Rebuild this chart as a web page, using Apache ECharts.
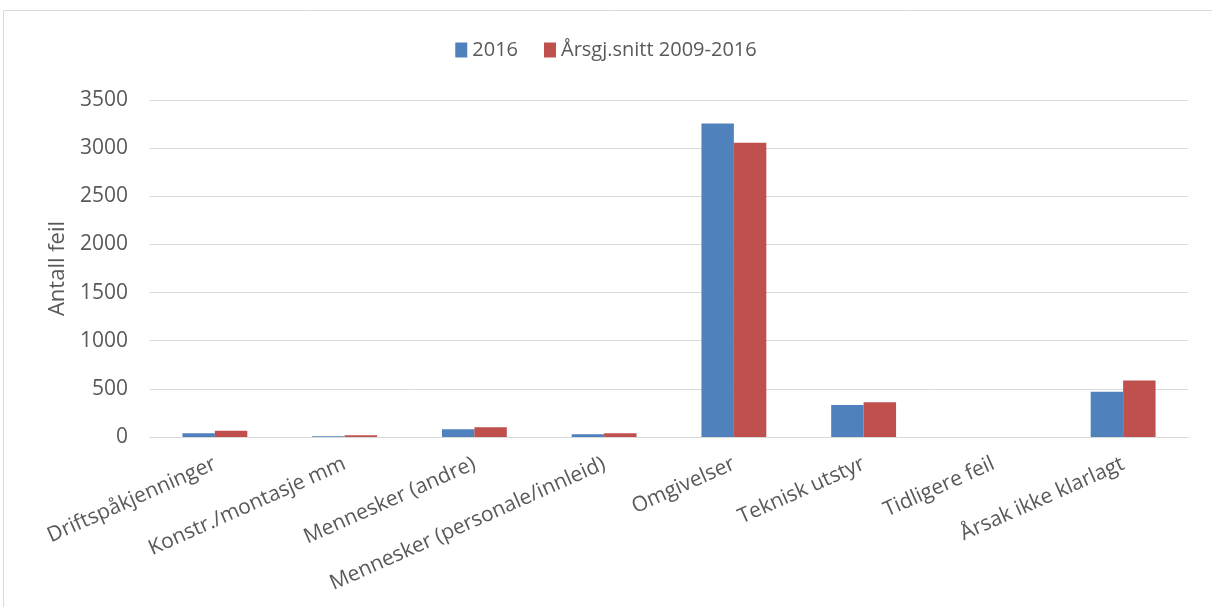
<!DOCTYPE html>
<html>
<head>
<meta charset="utf-8">
<script src="https://cdn.jsdelivr.net/npm/echarts@6/dist/echarts.min.js"></script>
<style>
  html, body { margin: 0; padding: 0; background: #fff; }
  #chart { width: 1212px; height: 607px; }
</style>
</head>
<body>
<div id="chart"></div>
<script>
const categories = [
  "Driftspåkjenninger",
  "Konstr./montasje mm",
  "Mennesker (andre)",
  "Mennesker (personale/innleid)",
  "Omgivelser",
  "Teknisk utstyr",
  "Tidligere feil",
  "Årsak ikke klarlagt"
];
const values2016 = [40, 8, 80, 28, 3255, 332, 0, 470];
const valuesAvg = [66, 18, 100, 38, 3055, 360, 0, 588];
const seriesNames = ["2016", "Årsgj.snitt 2009-2016"];

const font = "'Open Sans', 'Noto Sans', sans-serif";
const textColor = "#595959";

const chart = echarts.init(document.getElementById("chart"));
chart.setOption({
  animation: false,
  textStyle: { fontFamily: font },
  graphic: [{
    type: "rect",
    shape: { x: 3.5, y: 10.5, width: 1220, height: 620 },
    style: { fill: "none", stroke: "#d9d9d9", lineWidth: 1 },
    silent: true
  }],
  legend: {
    top: 35,
    left: "center",
    itemWidth: 12,
    itemHeight: 15,
    itemGap: 26,
    icon: "rect",
    textStyle: { fontFamily: font, fontSize: 20, color: textColor },
    data: seriesNames
  },
  grid: { left: 150, right: 24, top: 100, bottom: 170 },
  xAxis: {
    type: "category",
    data: categories,
    axisTick: { show: false },
    axisLine: { lineStyle: { color: "#d9d9d9", width: 1 } },
    axisLabel: {
      rotate: 24,
      interval: 0,
      margin: 26,
      fontFamily: font,
      fontSize: 21,
      color: textColor
    }
  },
  yAxis: {
    type: "value",
    min: 0,
    max: 3500,
    interval: 500,
    name: "Antall feil",
    nameLocation: "middle",
    nameGap: 80,
    nameRotate: 90,
    nameTextStyle: { fontFamily: font, fontSize: 22, color: textColor },
    axisLabel: { fontFamily: font, fontSize: 21, color: textColor, margin: 22, formatter: v => String(v) },
    splitLine: { lineStyle: { color: "#d9d9d9", width: 1 } },
    axisLine: { show: false },
    axisTick: { show: false }
  },
  series: [
    {
      name: seriesNames[0],
      type: "bar",
      data: values2016,
      barGap: "0%",
      barCategoryGap: "50%",
      itemStyle: { color: "#4f81bd" }
    },
    {
      name: seriesNames[1],
      type: "bar",
      data: valuesAvg,
      barGap: "0%",
      barCategoryGap: "50%",
      itemStyle: { color: "#c0504d" }
    }
  ]
});
</script>
</body>
</html>
